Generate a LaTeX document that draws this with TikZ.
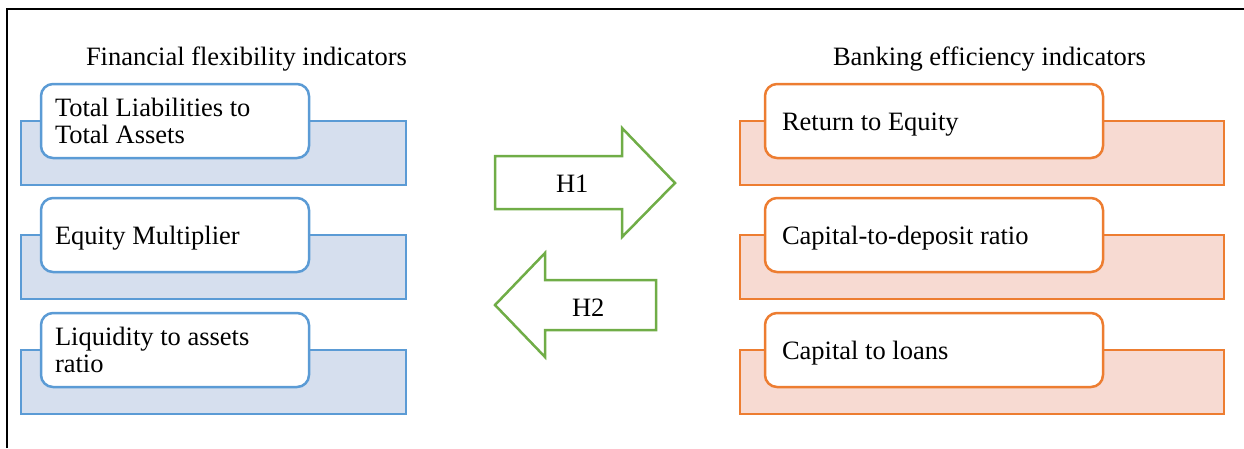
\documentclass[tikz,border=0pt]{standalone}
\usepackage{fontspec}
\setmainfont{Liberation Serif}
\definecolor{bluestroke}{HTML}{5B9BD5}
\definecolor{bluefill}{HTML}{D6DFEE}
\definecolor{orangestroke}{HTML}{ED7D31}
\definecolor{orangefill}{HTML}{F7DAD2}
\definecolor{arrowgreen}{HTML}{70AD47}
\begin{document}
\begin{tikzpicture}[x=1pt,y=-1pt,
  every node/.style={font=\fontsize{26.5}{27}\selectfont, inner sep=0pt, outer sep=0pt},
  backblue/.style={draw=bluestroke, fill=bluefill, line width=2.5pt, minimum width=385pt, minimum height=64pt},
  frontblue/.style={draw=bluestroke, fill=white, line width=2.5pt, rounded corners=12pt, minimum width=268pt, minimum height=74pt},
  backorange/.style={draw=orangestroke, fill=orangefill, line width=2.5pt, minimum width=484pt, minimum height=64pt},
  frontorange/.style={draw=orangestroke, fill=white, line width=2.5pt, rounded corners=12pt, minimum width=338pt, minimum height=74pt},
  boxtext/.style={anchor=base west, align=left},
  bigarrow/.style={draw=arrowgreen, line width=2.5pt, fill=white, line join=miter}]
\useasboundingbox (0,0) rectangle (1244,448);
\draw[line width=2.5pt] (7,448) -- (7,9) -- (1244,9);
% titles
\node[anchor=base west] (t1) at (86,65) {Financial flexibility indicators};
\node[anchor=base west] (t2) at (833,65) {Banking efficiency indicators};
% left group
\node[backblue] (lb1) at (213.5,153) {};
\node[frontblue] (lf1) at (175,121) {};
\node[boxtext] (lt1) at (55,143) {Total Liabilities to\\Total Assets};
\node[backblue] (lb2) at (213.5,267) {};
\node[frontblue] (lf2) at (175,235) {};
\node[boxtext] (lt2) at (55,244) {Equity Multiplier};
\node[backblue] (lb3) at (213.5,382) {};
\node[frontblue] (lf3) at (175,350) {};
\node[boxtext] (lt3) at (55,372) {Liquidity to assets\\ratio};
% right group
\node[backorange] (rb1) at (982,153) {};
\node[frontorange] (rf1) at (934,121) {};
\node[boxtext] (rt1) at (782,130) {Return to Equity};
\node[backorange] (rb2) at (982,267) {};
\node[frontorange] (rf2) at (934,235) {};
\node[boxtext] (rt2) at (782,244) {Capital-to-deposit ratio};
\node[backorange] (rb3) at (982,382) {};
\node[frontorange] (rf3) at (934,350) {};
\node[boxtext] (rt3) at (782,359) {Capital to loans};
% arrows
\draw[bigarrow] (495,156) -- (622,156) -- (622,128) -- (675,183) -- (622,237) -- (622,209) -- (495,209) -- cycle;
\node[anchor=base west] (h1) at (556,192) {H1};
\draw[bigarrow] (656,280) -- (545,280) -- (545,253) -- (495,305) -- (545,357) -- (545,330) -- (656,330) -- cycle;
\node[anchor=base west] (h2) at (572,316) {H2};
\end{tikzpicture}
\end{document}
